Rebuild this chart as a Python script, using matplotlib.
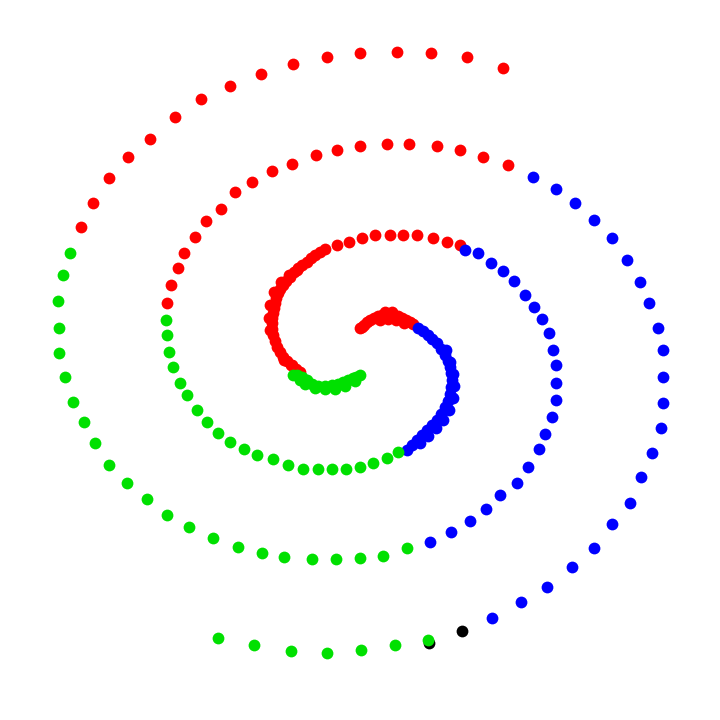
import matplotlib
matplotlib.use("Agg")
import matplotlib.pyplot as plt

# Points (x, y in image-like units, y grows downward)
red_x = [81, 93, 109, 128, 150, 175, 201, 230, 261, 293, 327, 360, 397, 431, 467, 503,
         167, 171, 178, 184, 195, 206, 221, 235, 252, 272, 292, 316, 337, 360, 387, 409, 437, 460, 483, 508,
         300, 296, 292, 287, 283, 280, 277, 275, 273, 272, 272, 272, 273, 274, 275, 276, 278, 280, 283,
         286, 290, 294, 298, 302, 307, 311, 315, 320, 325, 337, 349, 362, 375, 390, 403, 417, 433, 447, 460,
         270, 269, 270, 274, 281, 289, 297, 291, 284,
         360, 362, 364, 367, 370, 374, 378, 382, 386, 390, 394, 398, 402, 406, 410, 413,
         380, 388, 396, 404, 392, 385]
red_y = [227, 203, 178, 157, 139, 117, 99, 86, 74, 64, 57, 53, 52, 53, 57, 68,
         303, 285, 268, 253, 237, 221, 209, 192, 182, 171, 164, 155, 150, 146, 144, 144, 146, 150, 157, 165,
         372, 369, 365, 361, 357, 352, 347, 341, 335, 329, 323, 318, 313, 308, 303, 298, 293, 289, 285,
         281, 277, 272, 268, 265, 262, 258, 255, 252, 249, 245, 242, 238, 235, 235, 235, 235, 238, 242, 245,
         330, 318, 305, 292, 282, 275, 270, 365, 360,
         328, 327, 325, 322, 320, 318, 316, 315, 314, 314, 315, 316, 318, 320, 322, 324,
         320, 319, 320, 323, 312, 312]

blue_x = [418, 423, 428, 432, 437, 441, 445, 448, 450, 451, 452, 451, 450, 448, 445, 441, 437, 432,
          427, 422, 417, 412, 407,
          446, 450, 453, 454, 453, 449, 443, 436, 428, 420,
          465, 478, 491, 503, 514, 525, 534, 542, 549, 553, 556, 556, 556, 552, 545, 539, 528, 517, 500,
          486, 470, 451, 430,
          533, 556, 575, 594, 612, 627, 640, 649, 658, 663, 663, 663, 661, 652, 641, 630, 612, 594, 572,
          547, 521, 492]
blue_y = [328, 331, 335, 339, 343, 349, 355, 361, 367, 373, 380, 387, 394, 401, 407, 414, 420, 425,
          430, 435, 440, 445, 450,
          350, 362, 374, 386, 398, 410, 420, 428, 436, 443,
          250, 253, 263, 271, 281, 295, 307, 319, 333, 350, 365, 383, 400, 417, 434, 449, 467, 483, 495,
          509, 521, 532, 542,
          177, 189, 203, 220, 238, 260, 282, 303, 328, 350, 377, 403, 428, 453, 477, 503, 524, 548, 567,
          587, 602, 618]

black_x = [429, 462]
black_y = [643, 631]

green_x = [70, 63, 58, 59, 59, 65, 73, 84, 95, 109, 127, 147, 167, 189, 213, 238, 262, 284, 312, 336,
           360, 383, 407,
           166, 167, 169, 173, 180, 187, 197, 207, 218, 230, 244, 257, 273, 288, 303, 318, 332, 346, 360,
           373, 387, 398,
           428, 395, 361, 327, 291, 254, 218,
           360, 356, 353, 348, 343, 338, 332, 325, 318, 312, 307, 302, 297, 293,
           355, 345, 335, 325, 315, 305, 300]
green_y = [253, 275, 301, 328, 353, 377, 402, 422, 443, 465, 483, 499, 515, 527, 538, 547, 553, 557, 559, 559,
           558, 556, 548,
           320, 335, 352, 367, 383, 395, 410, 422, 433, 442, 449, 455, 459, 465, 469, 469, 469, 469, 467,
           463, 458, 452,
           640, 645, 650, 653, 651, 645, 638,
           375, 377, 378, 380, 382, 384, 385, 386, 386, 384, 380, 377, 375, 375,
           381, 386, 389, 389, 388, 384, 380]

fig = plt.figure(figsize=(7.2, 7.2), dpi=100)
ax = fig.add_axes([0, 0, 1, 1])
size = 72
ax.scatter(black_x, black_y, s=size, color="#000000", linewidths=0)
ax.scatter(red_x, red_y, s=size, color="#ff0000", linewidths=0)
ax.scatter(blue_x, blue_y, s=size, color="#0000ff", linewidths=0)
ax.scatter(green_x, green_y, s=size, color="#00e000", linewidths=0)
ax.set_xlim(0, 720)
ax.set_ylim(720, 0)
ax.axis("off")
fig.savefig("out.png", dpi=100, facecolor="white")
